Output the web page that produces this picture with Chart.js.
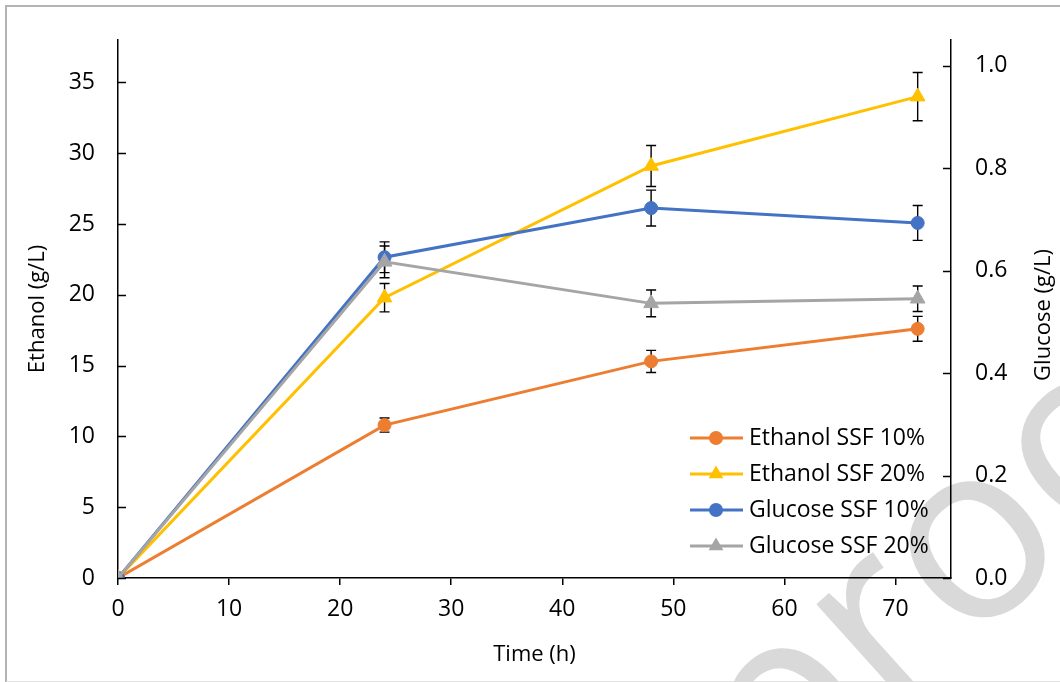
<!DOCTYPE html>
<html>
<head>
<meta charset="utf-8">
<title>Ethanol and glucose during SSF</title>
<script src="https://cdn.jsdelivr.net/npm/chart.js@4.4.1/dist/chart.umd.min.js"></script>
<style>
  html, body { margin: 0; padding: 0; background: #fff; }
  #wrap { position: relative; width: 1060px; height: 682px; overflow: hidden; }
  #frame {
    position: absolute; left: 5px; top: 5px; width: 1100px; height: 674px;
    border-left: 2px solid #b4b4b4; border-top: 2px solid #b4b4b4; border-bottom: 2px solid #e2e2e2;
  }
  #chart { position: absolute; left: 0; top: 0; }
</style>
</head>
<body>
<div id="wrap">
  <div id="frame"></div>
  <canvas id="chart" width="1060" height="682"></canvas>
</div>
<script>
// sampling times (h)
const timeHours = [0, 24, 48, 72];

// ethanol, g/L (left axis)
const ethanol10 = [0, 10.8, 15.3, 17.6];
const ethanol10Err = [0, 0.5, 0.78, 0.88];
const ethanol20 = [0, 19.8, 29.1, 34.0];
const ethanol20Err = [0, 1.0, 1.45, 1.7];

// glucose, g/L (right axis)
const glucose10 = [0, 0.626, 0.722, 0.693];
const glucose10Err = [0, 0.03, 0.035, 0.034];
const glucose20 = [0, 0.617, 0.536, 0.545];
const glucose20Err = [0, 0.031, 0.026, 0.025];

const seriesLabels = ['Ethanol SSF 10%', 'Ethanol SSF 20%', 'Glucose SSF 10%', 'Glucose SSF 20%'];
const seriesColors = ['#ED7D31', '#FFC000', '#4472C4', '#A5A5A5'];

const FONT = "'Open Sans', 'DejaVu Sans', sans-serif";
Chart.defaults.font.family = FONT;
Chart.defaults.font.size = 23;
Chart.defaults.color = '#000';

function toPoints(values) {
    return timeHours.map((t, i) => ({ x: t, y: values[i] }));
}

function makeSeries(idx, values, errors, axis, shape) {
    return {
        label: seriesLabels[idx],
        data: toPoints(values),
        errors: errors,
        yAxisID: axis,
        borderColor: seriesColors[idx],
        backgroundColor: seriesColors[idx],
        borderWidth: 3,
        pointStyle: shape,
        pointRadius: shape === 'triangle' ? 8.5 : 6.5,
        pointBorderWidth: 1,
        pointBorderColor: seriesColors[idx],
        pointBackgroundColor: seriesColors[idx],
        tension: 0,
        order: 4 - idx
    };
}

// vertical error bars with caps, drawn under the markers
const errorBars = {
    id: 'errorBars',
    beforeDatasetsDraw(chart) {
        const ctx = chart.ctx;
        const xs = chart.scales.x;
        ctx.save();
        ctx.strokeStyle = '#000';
        ctx.lineWidth = 1.4;
        chart.data.datasets.forEach(ds => {
            const ys = chart.scales[ds.yAxisID];
            ds.data.forEach((p, i) => {
                const e = ds.errors[i];
                if (!e) return;
                const x = xs.getPixelForValue(p.x);
                const top = ys.getPixelForValue(p.y + e);
                const bot = ys.getPixelForValue(p.y - e);
                ctx.beginPath();
                ctx.moveTo(x, top); ctx.lineTo(x, bot);
                ctx.moveTo(x - 5, top); ctx.lineTo(x + 5, top);
                ctx.moveTo(x - 5, bot); ctx.lineTo(x + 5, bot);
                ctx.stroke();
            });
        });
        ctx.restore();
    }
};

// inward tick marks on both value axes
const innerTicks = {
    id: 'innerTicks',
    afterDraw(chart) {
        const ctx = chart.ctx;
        const area = chart.chartArea;
        ctx.save();
        ctx.strokeStyle = '#000';
        ctx.lineWidth = 1.5;
        ctx.beginPath();
        chart.scales.y.ticks.forEach(t => {
            const y = Math.round(chart.scales.y.getPixelForValue(t.value)) + 0.5;
            ctx.moveTo(area.left, y); ctx.lineTo(area.left + 8, y);
        });
        chart.scales.y1.ticks.forEach(t => {
            const y = Math.round(chart.scales.y1.getPixelForValue(t.value)) + 0.5;
            ctx.moveTo(area.right, y); ctx.lineTo(area.right - 8, y);
        });
        ctx.stroke();
        ctx.restore();
    }
};

// right axis title, reading bottom to top
const rightTitle = {
    id: 'rightTitle',
    afterDraw(chart) {
        const ctx = chart.ctx;
        const area = chart.chartArea;
        ctx.save();
        ctx.translate(1044, (area.top + area.bottom) / 2 + 6);
        ctx.rotate(-Math.PI / 2);
        ctx.font = '22px ' + FONT;
        ctx.fillStyle = '#000';
        ctx.textAlign = 'center';
        ctx.textBaseline = 'middle';
        ctx.fillText('Glucose (g/L)', 0, 0);
        ctx.restore();
    }
};

// legend box inside the plot, lower right
const insideLegend = {
    id: 'insideLegend',
    afterDraw(chart) {
        const ctx = chart.ctx;
        ctx.save();
        ctx.font = '23px ' + FONT;
        ctx.textBaseline = 'middle';
        ctx.textAlign = 'left';
        chart.data.datasets.forEach((ds, i) => {
            const y = 438 + i * 36;
            ctx.strokeStyle = ds.borderColor;
            ctx.fillStyle = ds.borderColor;
            ctx.lineWidth = 3;
            ctx.beginPath();
            ctx.moveTo(690, y); ctx.lineTo(743, y);
            ctx.stroke();
            ctx.beginPath();
            if (ds.pointStyle === 'triangle') {
                const r = 8.5;
                ctx.moveTo(716, y - r);
                ctx.lineTo(716 + r * 0.866, y + r * 0.5);
                ctx.lineTo(716 - r * 0.866, y + r * 0.5);
                ctx.closePath();
            } else {
                ctx.arc(716, y, 7, 0, Math.PI * 2);
            }
            ctx.fill();
            ctx.fillStyle = '#000';
            ctx.fillText(ds.label, 749, y);
        });
        ctx.restore();
    }
};

// pale diagonal stamp behind the chart
const stamp = {
    id: 'stamp',
    beforeDraw(chart) {
        const ctx = chart.ctx;
        ctx.save();
        ctx.translate(1252, 392);
        ctx.rotate(-42 * Math.PI / 180);
        ctx.font = '250px ' + FONT;
        ctx.fillStyle = '#d9d9d9';
        ctx.textAlign = 'right';
        ctx.textBaseline = 'alphabetic';
        ctx.fillText('Journal Pre-proof', 0, 0);
        ctx.restore();
    }
};

function keepEvery(step) {
    return scale => {
        scale.ticks = scale.ticks.filter(t => Math.abs(t.value / step - Math.round(t.value / step)) < 1e-6);
    };
}

new Chart(document.getElementById('chart'), {
    type: 'line',
    data: {
        datasets: [
            makeSeries(0, ethanol10, ethanol10Err, 'y', 'circle'),
            makeSeries(1, ethanol20, ethanol20Err, 'y', 'triangle'),
            makeSeries(2, glucose10, glucose10Err, 'y1', 'circle'),
            makeSeries(3, glucose20, glucose20Err, 'y1', 'triangle')
        ]
    },
    options: {
        responsive: false,
        animation: false,
        layout: { padding: { top: 40, left: 0, right: 0, bottom: 0 } },
        plugins: {
            legend: { display: false },
            tooltip: { enabled: false }
        },
        scales: {
            x: {
                type: 'linear',
                min: 0,
                max: 75,
                afterBuildTicks: keepEvery(10),
                afterFit(scale) { scale.height = 104; },
                ticks: { stepSize: 10, includeBounds: false, padding: 11, maxRotation: 0 },
                grid: { drawOnChartArea: false, drawTicks: true, tickLength: 7, color: '#000', lineWidth: 1.5 },
                border: { color: '#000', width: 1.5 },
                title: { display: true, text: 'Time (h)', font: { size: 22 }, padding: { top: 0, bottom: 14 } }
            },
            y: {
                position: 'left',
                min: 0,
                max: 38,
                afterBuildTicks: keepEvery(5),
                afterFit(scale) { scale.width = 118; },
                ticks: { stepSize: 5, includeBounds: false, padding: 23 },
                grid: { drawOnChartArea: false, drawTicks: false },
                border: { color: '#000', width: 1.5 },
                title: { display: true, text: 'Ethanol (g/L)', font: { size: 22 }, padding: { top: 25, bottom: 0 } }
            },
            y1: {
                position: 'right',
                min: 0,
                max: 1.05,
                afterBuildTicks: keepEvery(0.2),
                afterFit(scale) { scale.width = 109; },
                ticks: { stepSize: 0.2, includeBounds: false, padding: 24, callback: v => v.toFixed(1) },
                grid: { drawOnChartArea: false, drawTicks: false },
                border: { color: '#000', width: 1.5 }
            }
        }
    },
    plugins: [stamp, errorBars, innerTicks, rightTitle, insideLegend]
});
</script>
</body>
</html>
